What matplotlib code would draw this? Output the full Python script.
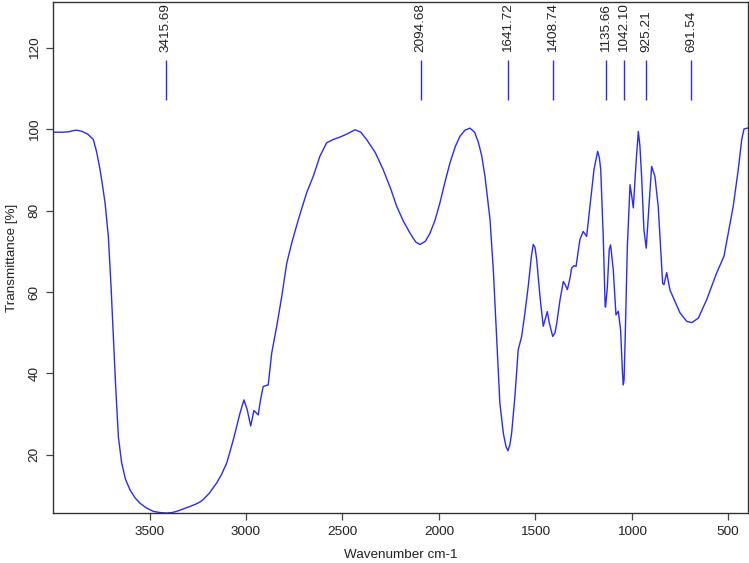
import numpy as np
import matplotlib
matplotlib.use('Agg')
import matplotlib.pyplot as plt

plt.rcParams['font.family'] = ['Liberation Sans', 'DejaVu Sans']

# spectrum (wavenumber cm-1, transmittance %)
wavenumber = [4000, 3950, 3920, 3895, 3878, 3850, 3820, 3792, 3775, 3757, 3745, 3731,
              3714, 3700, 3688, 3676, 3662, 3645, 3625, 3602, 3575, 3550, 3515, 3481,
              3445, 3411, 3385, 3360, 3325, 3291, 3260, 3239, 3222, 3190, 3152, 3125,
              3100, 3066, 3031, 3011, 2994, 2976, 2959, 2937, 2925, 2911, 2885, 2867,
              2841, 2815, 2789, 2763, 2729, 2686, 2652, 2617, 2582, 2548, 2513, 2475,
              2435, 2405, 2375, 2330, 2289, 2250, 2219, 2185, 2150, 2120, 2098, 2070,
              2046, 2020, 1995, 1970, 1943, 1915, 1891, 1865, 1839, 1815, 1796, 1778,
              1761, 1735, 1718, 1701, 1684, 1666, 1652, 1642, 1632, 1623, 1606, 1589,
              1571, 1554, 1537, 1520, 1511, 1502, 1493, 1476, 1459, 1448, 1438, 1428,
              1410, 1398, 1389, 1372, 1355, 1345, 1334, 1320, 1312, 1300, 1289, 1269,
              1252, 1243, 1234, 1217, 1196, 1177, 1168, 1161, 1148, 1138, 1136, 1127,
              1117, 1110, 1096, 1082, 1070, 1058, 1048, 1044, 1040, 1034, 1023, 1009,
              1000, 992, 978, 966, 958, 949, 937, 925, 911, 897, 880, 863,
              849, 840, 833, 819, 802, 776, 750, 715, 689, 655, 612, 560,
              522, 500, 474, 448, 430, 418, 400]
transmittance = [99.3, 99.3, 99.4, 99.7, 99.8, 99.5, 98.8, 97.5, 94.5, 90.1, 86.5, 81.9,
                 73.7, 61.4, 49.1, 36.8, 24.5, 18.0, 14.0, 11.4, 9.4, 8.1, 6.9, 6.1,
                 5.8, 5.7, 5.8, 6.1, 6.7, 7.3, 7.9, 8.4, 9.0, 10.6, 13.1, 15.4,
                 18.0, 23.7, 30.3, 33.5, 31.1, 27.1, 30.9, 29.8, 33.5, 36.8, 37.2, 45.0,
                 51.6, 58.9, 67.1, 72.1, 77.8, 84.4, 88.4, 93.4, 96.7, 97.5, 98.1, 98.9,
                 99.9, 99.3, 97.5, 94.3, 90.1, 85.4, 81.1, 77.5, 74.5, 72.3, 71.7, 72.5,
                 74.5, 77.7, 81.9, 86.8, 91.7, 95.8, 98.3, 99.8, 100.3, 99.3, 96.9, 93.5,
                 88.4, 77.8, 65.5, 49.1, 32.7, 25.3, 22.0, 21.0, 22.5, 25.3, 34.3, 45.8,
                 49.1, 54.9, 61.4, 69.0, 71.7, 71.0, 68.0, 58.9, 51.6, 53.5, 55.2, 52.5,
                 49.1, 50.0, 52.4, 58.1, 62.6, 61.8, 60.6, 63.5, 65.9, 66.5, 66.3, 72.9,
                 74.9, 74.3, 73.7, 81.1, 90.1, 94.6, 93.0, 90.1, 73.7, 56.5, 56.3, 61.0,
                 70.5, 71.6, 65.5, 54.4, 55.3, 50.7, 40.0, 37.2, 38.5, 49.1, 71.2, 86.4,
                 83.5, 80.7, 91.7, 99.5, 96.0, 88.4, 75.3, 70.8, 81.1, 90.9, 88.4, 81.1,
                 69.6, 62.2, 61.8, 64.8, 60.5, 57.7, 54.9, 52.8, 52.5, 53.6, 58.1, 64.7,
                 68.8, 74.5, 81.1, 90.1, 97.5, 100.1, 100.3]

peaks = [3415.69, 2094.68, 1641.72, 1408.74, 1135.66, 1042.10, 925.21, 691.54]
peak_labels = ['3415.69', '2094.68', '1641.72', '1408.74', '1135.66', '1042.10', '925.21', '691.54']

blue = '#2a2aff'

fig = plt.figure(figsize=(7.49, 5.63), dpi=100)
ax = fig.add_axes([0.071, 0.0888, 0.927, 0.9076])

ax.plot(wavenumber, transmittance, color=blue, lw=1.0)
ax.vlines(peaks, 107.3, 117.1, color=blue, lw=1.0)
for p, lab in zip(peaks, peak_labels):
    ax.text(p, 118.9, lab, rotation=90, ha='center', va='bottom', fontsize=9.7, color='#222222')

ax.set_xlim(4000, 400)
ax.set_ylim(5.7, 131.3)
ax.set_xticks([3500, 3000, 2500, 2000, 1500, 1000, 500])
ax.set_yticks([20, 40, 60, 80, 100, 120])
ax.tick_params(direction='out', length=5, width=0.9, color='#444444', labelsize=9.7,
               labelcolor='#222222', pad=4)
for lab in ax.get_yticklabels():
    lab.set_rotation(90)
    lab.set_va('center')
for s in ax.spines.values():
    s.set_color('#333333')
    s.set_linewidth(1.0)

ax.set_xlabel('Wavenumber cm-1', fontsize=9.7, color='#222222', labelpad=8)
ax.set_ylabel('Transmittance [%]', fontsize=9.7, color='#222222', labelpad=8)

fig.savefig('out.png', dpi=100)
